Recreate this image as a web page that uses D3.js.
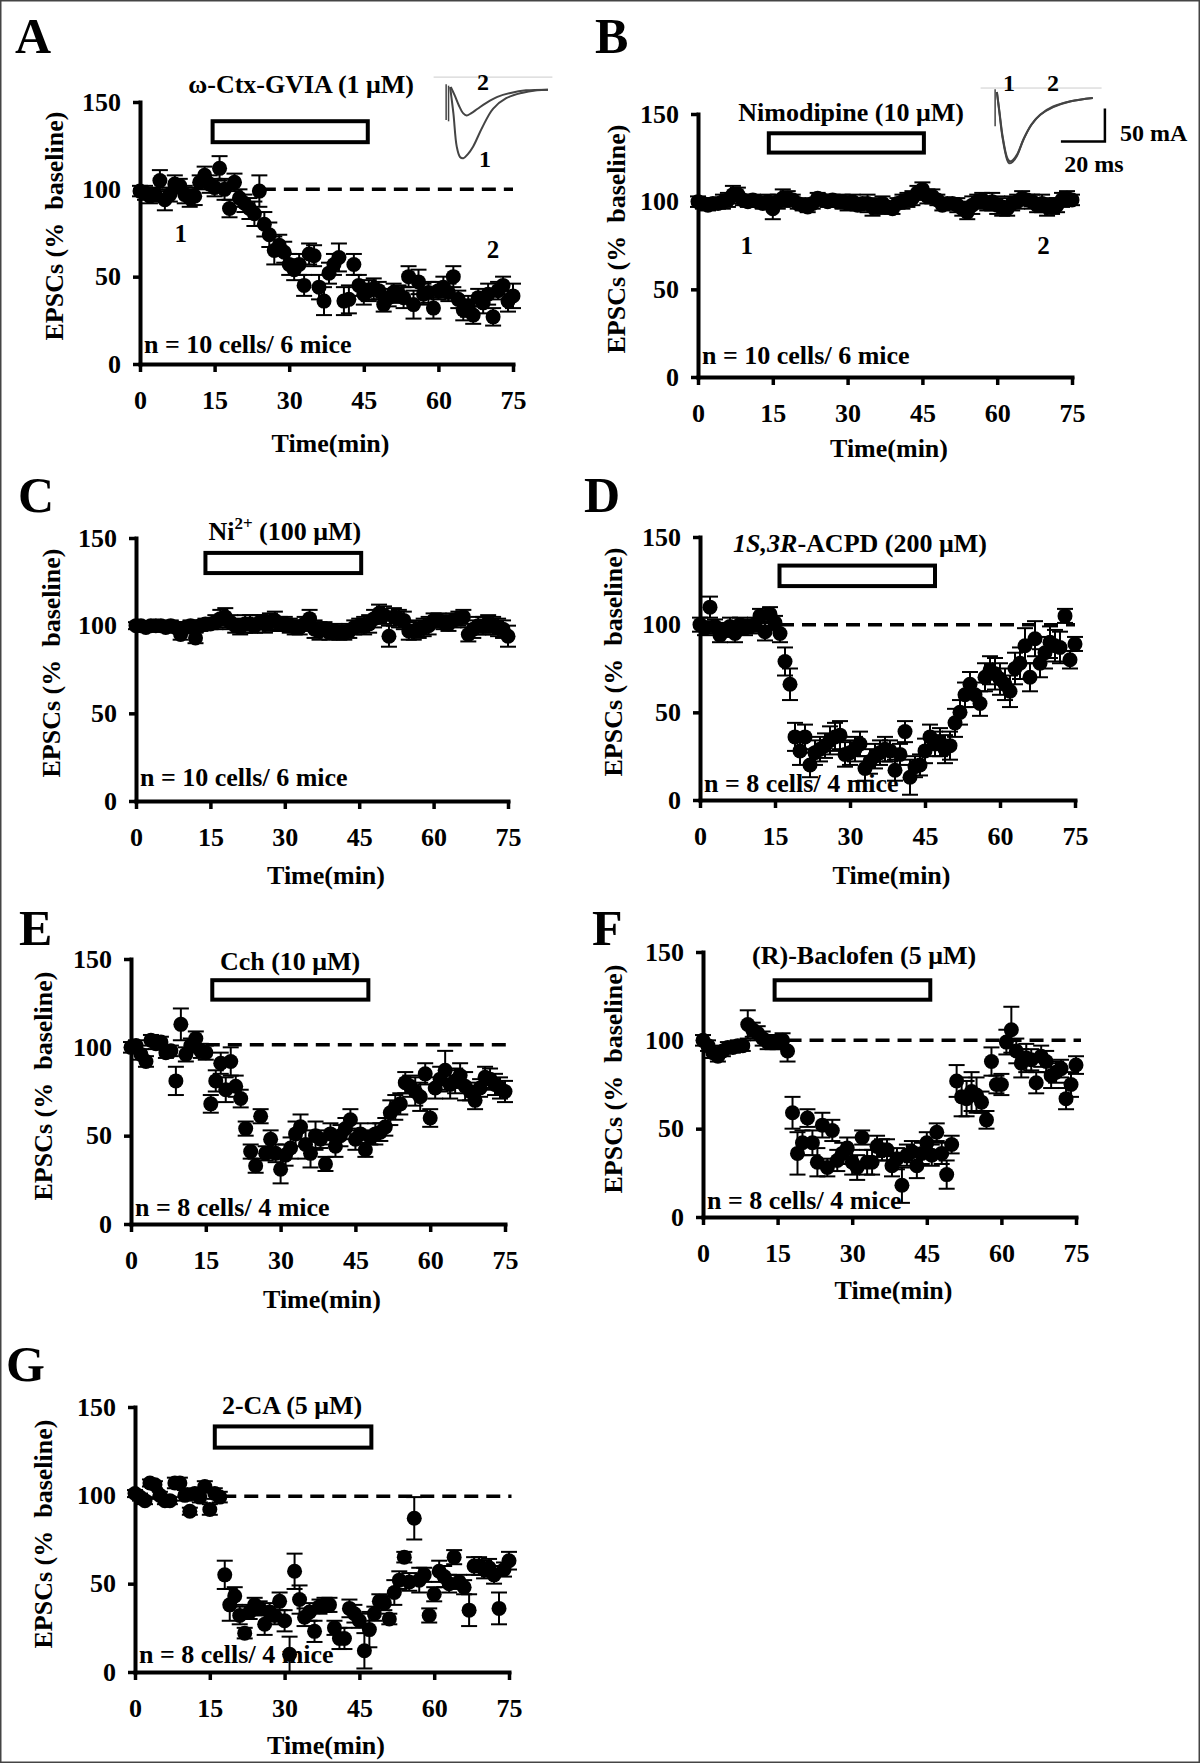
<!DOCTYPE html>
<html>
<head>
<meta charset="utf-8">
<script src="https://cdn.jsdelivr.net/npm/d3@7"></script>
<style>
  body { margin: 0; background: #fff; }
  text { font-family: "Liberation Serif", "Times New Roman", serif; font-weight: bold; }
</style>
</head>
<body>
<script>
// Time axis: one sample per minute
const minutes = d3.range(0, 76);
const xTicks = [0, 15, 30, 45, 60, 75];
const yTicks = [0, 50, 100, 150];

// EPSC amplitude (% baseline) and SEM
const epscA = [99,98,96,97,105,94,97,103,102,97, 95,96,104,108,103,101,112,100,89,104, 95,92,89,86,99,80,74,65,68,64, 57,54,57,45,63,62,44,36,52,57, 61,36,37,57,45,40,42,43,42,34, 38,41,40,38,50,34,47,40,41,32, 42,44,41,50,37,31,33,28,38,35, 40,27,42,45,36,39];
const semA = [3,4,4,4,6,6,4,5,4,5, 5,5,4,5,5,5,7,6,5,5, 5,5,6,7,9,7,7,8,6,6, 6,6,6,6,6,6,7,8,6,6, 8,8,8,6,6,6,6,6,5,4, 5,5,5,6,6,8,7,6,6,6, 5,6,5,6,5,6,6,5,5,6, 6,5,5,5,6,7];

const epscB = [100,99,98,99,99,100,101,104,104,101, 100,101,100,99,100,96,100,102,102,101, 99,98,97,99,102,101,100,101,100,100, 99,100,98,99,99,97,97,99,97,96, 99,100,101,102,105,107,103,103,101,98, 99,99,98,96,94,98,100,101,99,100, 98,97,96,99,100,102,101,100,98,99, 97,97,98,101,102,101];
const semB = [3,3,3,3,3,4,4,5,4,3, 3,3,3,3,4,6,4,5,4,3, 3,3,3,3,3,3,3,3,3,4, 4,4,3,3,5,5,4,4,3,3, 3,4,4,4,4,4,4,4,3,3, 3,3,4,4,4,5,4,4,4,5, 5,5,4,4,4,4,3,4,4,5, 5,4,4,4,4,3];

const epscC = [100,100,99,100,100,100,99,100,99,95, 99,100,93,100,101,101,102,104,105,102, 100,99,101,101,100,102,101,102,103,101, 101,100,99,99,101,104,98,97,98,96, 97,96,96,97,99,100,100,101,104,107, 106,94,105,104,103,97,97,98,99,100, 103,103,102,101,103,104,105,95,98,100, 100,101,100,99,98,94];
const semC = [2,2,2,2,2,2,2,3,3,3, 3,3,3,3,3,3,4,5,5,4, 4,4,5,5,4,4,5,5,5,4, 4,4,4,4,4,5,5,5,4,4, 4,4,4,4,4,4,5,5,5,5, 5,6,5,5,5,5,5,5,5,5, 4,4,4,4,4,4,4,4,5,5, 5,5,5,5,5,6];

const epscD = [100,98,110,99,94,97,99,95,100,98, 99,100,105,96,106,101,95,79,66,36, 28,36,20,27,29,31,34,36,37,26, 27,29,32,18,22,25,27,29,28,17, 26,39,13,19,20,28,36,32,33,29, 31,44,50,60,66,60,55,70,74,72, 69,66,62,75,78,88,70,92,78,84, 90,88,87,105,80,89];
const semD = [4,4,6,4,4,4,5,5,4,4, 4,4,4,5,4,4,5,8,9,8, 8,7,7,7,7,7,8,8,8,7, 7,7,7,7,7,7,7,7,6,6, 6,6,10,6,6,7,7,7,8,8, 8,8,7,7,7,7,7,8,8,9, 9,9,9,9,9,10,8,10,8,9, 9,9,9,4,5,4];

const epscE = [100,101,96,92,104,102,103,97,98,81, 113,96,101,105,98,97,68,81,91,76, 92,78,71,54,41,33,61,40,48,40, 31,39,43,51,55,45,40,50,48,34, 51,44,50,54,59,48,51,42,49,51, 52,55,63,66,68,80,78,75,72,85, 60,77,82,87,79,81,84,78,75,70, 77,83,82,79,77,75];
const semE = [3,3,3,3,3,3,3,3,3,8, 9,4,4,4,4,4,5,6,6,7, 8,6,5,4,4,4,4,4,5,5, 8,6,6,7,7,8,8,8,5,4, 6,6,6,6,6,6,6,4,4,6, 5,5,7,7,6,6,6,8,8,6, 5,6,7,11,8,7,7,8,5,5, 5,6,6,6,6,6];

const epscF = [100,97,93,91,94,96,96,97,97,109, 106,104,101,99,99,99,100,94,59,36, 42,56,42,31,52,28,49,32,36,39, 31,28,45,31,31,40,38,38,29,33, 18,35,37,29,36,42,35,48,36,24, 41,77,68,67,71,69,65,55,88,75, 75,99,106,94,87,90,89,76,91,88, 80,82,84,67,75,86];
const semF = [3,3,3,3,3,3,3,3,3,8, 4,4,4,4,4,4,4,6,9,12, 7,5,7,8,7,5,6,6,6,6, 7,7,4,7,7,6,6,6,6,6, 10,6,6,7,6,6,6,5,6,8, 5,9,11,10,11,10,6,5,8,5, 6,7,13,7,8,8,6,6,6,6, 7,6,5,6,7,5];

const epscG = [101,99,97,107,106,100,97,97,107,107, 100,91,101,99,105,92,101,99,55,38, 43,32,22,34,38,36,27,34,32,40, 29,10,57,41,31,34,23,37,38,38, 25,19,19,36,33,29,12,24,33,40, 39,30,45,52,65,51,87,52,55,32, 44,57,54,50,65,51,48,35,60,60, 58,59,55,36,58,63];
const semG = [2,2,2,2,2,2,2,2,3,3, 3,2,3,3,3,3,3,3,8,9, 5,5,3,4,4,4,6,5,5,5, 6,10,10,8,5,5,6,4,4,4, 4,6,6,5,5,4,10,10,4,4, 4,3,7,5,3,5,12,7,4,4, 4,6,6,5,4,4,4,9,5,5, 5,5,5,9,4,5];

// Drug names (parts so that superscript / italic can be set)
const drugA = [{t: "ω-Ctx-GVIA (1 μM)"}];
const drugB = [{t: "Nimodipine (10 μM)"}];
const drugC = [{t: "Ni"}, {t: "2+", sup: true}, {t: " (100 μM)", after: true}];
const drugD = [{t: "1S,3R", it: true}, {t: "-ACPD (200 μM)"}];
const drugE = [{t: "Cch (10 μM)"}];
const drugF = [{t: "(R)-Baclofen (5 μM)"}];
const drugG = [{t: "2-CA (5 μM)"}];

const cellsA = "n = 10 cells/ 6 mice";
const cellsD = "n = 8 cells/ 4 mice";

// Example traces in the insets: [ms, current]
const traceA1 = [[0.5,0],[2,-40],[3.5,-90],[5,-106],[6.5,-108],[8.5,-102],[11,-90],[15,-62],[20,-33],[26,-17],[33,-9],[40,-5],[45,-4]];
const traceA2 = [[0.8,0],[2.5,-12],[4.5,-28],[6.5,-40],[8,-43],[10,-40],[13,-33],[17,-24],[22,-15],[28,-9],[35,-5],[45,-4]];
const traceB1 = [[0.4,0],[1.5,-30],[3,-70],[5,-102],[6,-108],[7.5,-106],[9.5,-97],[12.5,-72],[16,-50],[20,-35],[26,-23],[34,-14],[44,-9]];
const traceB2 = [[0.4,0],[1.5,-28],[3,-67],[5,-99],[6.2,-105],[7.7,-103],[9.7,-94],[12.7,-70],[16.2,-49],[20.2,-34],[26,-22],[34,-14],[44,-9]];

const svgWidth = 1200;
const svgHeight = 1763;

const svg = d3.select("body")
  .append("svg")
  .attr("width", svgWidth)
  .attr("height", svgHeight);

svg.append("rect")
  .attr("x", 0.75).attr("y", 0.75)
  .attr("width", svgWidth - 1.5).attr("height", svgHeight - 1.5)
  .attr("fill", "#fff").attr("stroke", "#444").attr("stroke-width", 1.5);

// layout for each panel (pixel positions of the axes origin)
const panels = [
  {letter: "A", lx: 15, ly: 53, left: 140, bottom: 364, w: 373, h: 262, values: epscA, sem: semA,
   drug: drugA, drugAt: [32.4, 155], box: [14.6, 45.8, 127, 139], dash: [24.5, 75], dashY: 100,
   cells: cellsA, cellsDy: 11, ylabDx: 77, timeDy: 88},
  {letter: "B", lx: 595, ly: 53, left: 698, bottom: 377, w: 374, h: 263, values: epscB, sem: semB,
   drug: drugB, drugAt: [30.7, 146], box: [14.2, 45.3, 128, 139], dash: null,
   cells: cellsA, cellsDy: 13, ylabDx: 73, timeDy: 80},
  {letter: "C", lx: 18, ly: 512, left: 136, bottom: 801, w: 372, h: 263, values: epscC, sem: semC,
   drug: drugC, drugAt: [30, 148.6], box: [14, 45.4, 130, 141.5], dash: null,
   cells: cellsA, cellsDy: 15, ylabDx: 76, timeDy: 83},
  {letter: "D", lx: 584, ly: 512, left: 700, bottom: 800, w: 375, h: 263, values: epscD, sem: semD,
   drug: drugD, drugAt: [32, 141.5], box: [15.9, 47, 122, 133.7], dash: [16, 75], dashY: 100,
   cells: cellsD, cellsDy: 8, ylabDx: 78, timeDy: 84},
  {letter: "E", lx: 19, ly: 945, left: 131, bottom: 1224, w: 374, h: 265, values: epscE, sem: semE,
   drug: drugE, drugAt: [31.9, 144], box: [16.3, 47.6, 127, 138], dash: [15, 76], dashY: 101.5,
   cells: cellsD, cellsDy: 8, ylabDx: 79, timeDy: 84},
  {letter: "F", lx: 592, ly: 945, left: 703, bottom: 1217, w: 373, h: 265, values: epscF, sem: semF,
   drug: drugF, drugAt: [32.4, 143], box: [14.4, 45.7, 123, 134], dash: [17, 76], dashY: 100,
   cells: cellsD, cellsDy: 8, ylabDx: 81, timeDy: 82},
  {letter: "G", lx: 6, ly: 1381, left: 135, bottom: 1672, w: 374, h: 265, values: epscG, sem: semG,
   drug: drugG, drugAt: [31.5, 146], box: [16, 47.4, 127, 139], dash: [17.5, 75.5], dashY: 99.5,
   cells: cellsD, cellsDy: 9, ylabDx: 83, timeDy: 82}
];

panels.forEach(p => {
  const x = d3.scaleLinear().domain([0, 75]).range([p.left, p.left + p.w]);
  const y = d3.scaleLinear().domain([0, 150]).range([p.bottom, p.bottom - p.h]);
  const g = svg.append("g");

  // panel letter
  g.append("text").attr("x", p.lx).attr("y", p.ly)
    .attr("font-size", 50).text(p.letter);

  // axes
  const styleAxis = a => {
    a.attr("font-family", "Liberation Serif").attr("font-size", 26).attr("font-weight", "bold");
    a.select(".domain").attr("stroke-width", 4).attr("stroke-linecap", "square");
    a.selectAll(".tick line").attr("stroke-width", 3.5);
  };
  g.append("g").attr("transform", `translate(0,${p.bottom})`)
    .call(d3.axisBottom(x).tickValues(xTicks).tickSize(8).tickPadding(19).tickSizeOuter(0))
    .call(styleAxis);
  g.append("g").attr("transform", `translate(${p.left},0)`)
    .call(d3.axisLeft(y).tickValues(yTicks).tickSize(7).tickPadding(12).tickSizeOuter(0))
    .call(styleAxis);

  // axis titles
  g.append("text").attr("x", (p.left + p.left + p.w) / 2 + 4).attr("y", p.bottom + p.timeDy)
    .attr("text-anchor", "middle").attr("font-size", 26).text("Time(min)");
  g.append("text")
    .attr("transform", `translate(${p.left - p.ylabDx},${p.bottom - 138}) rotate(-90)`)
    .attr("text-anchor", "middle").attr("font-size", 26).attr("xml:space", "preserve")
    .text("EPSCs (%  baseline)");

  // drug label and application bar
  const title = g.append("text").attr("x", x(p.drugAt[0])).attr("y", y(p.drugAt[1]))
    .attr("text-anchor", "middle").attr("font-size", 26);
  p.drug.forEach(part => {
    const ts = title.append("tspan").text(part.t);
    if (part.sup) ts.attr("font-size", 17).attr("dy", -11);
    if (part.after) ts.attr("dy", 11);
    if (part.it) ts.attr("font-style", "italic");
  });
  g.append("rect")
    .attr("x", x(p.box[0])).attr("y", y(p.box[3]))
    .attr("width", x(p.box[1]) - x(p.box[0])).attr("height", y(p.box[2]) - y(p.box[3]))
    .attr("fill", "#fff").attr("stroke", "#000").attr("stroke-width", 4);

  // baseline reference
  if (p.dash) {
    g.append("line")
      .attr("x1", x(p.dash[0])).attr("x2", x(p.dash[1]))
      .attr("y1", y(p.dashY)).attr("y2", y(p.dashY))
      .attr("stroke", "#000").attr("stroke-width", 3.5).attr("stroke-dasharray", "14 8");
  }

  // n label sits under the data
  g.append("text").attr("x", p.left + 4).attr("y", p.bottom - p.cellsDy)
    .attr("font-size", 26).text(p.cells);

  const data = minutes.map((t, i) => ({t: t, v: p.values[i], s: p.sem[i]}));

  // error bars
  const bars = g.append("g").attr("stroke", "#000").attr("stroke-width", 2);
  data.forEach(d => {
    bars.append("line").attr("x1", x(d.t)).attr("x2", x(d.t))
      .attr("y1", y(d.v - d.s)).attr("y2", y(d.v + d.s));
    [d.v - d.s, d.v + d.s].forEach(e => {
      bars.append("line").attr("x1", x(d.t) - 8).attr("x2", x(d.t) + 8)
        .attr("y1", y(e)).attr("y2", y(e));
    });
  });

  g.append("g").selectAll("circle")
    .data(data)
    .enter()
    .append("circle")
    .attr("cx", d => x(d.t))
    .attr("cy", d => y(d.v))
    .attr("r", 7.5)
    .attr("fill", "#000");

  p.x = x;
  p.y = y;
});

// time point markers 1 and 2 in A and B
const pA = panels[0], pB = panels[1];
[[pA, 8.2, 70, "1"], [pA, 71, 60.6, "2"], [pB, 9.8, 70, "1"], [pB, 69.3, 70, "2"]].forEach(m => {
  svg.append("text").attr("x", m[0].x(m[1])).attr("y", m[0].y(m[2]))
    .attr("text-anchor", "middle").attr("font-size", 25).text(m[3]);
});

// insets with example traces
function drawInset(ox, oy, traces, ref) {
  const ix = d3.scaleLinear().domain([0, 20]).range([ox, ox + 44]);
  const iy = d3.scaleLinear().domain([0, -50]).range([oy, oy + 33]);
  const line = d3.line().x(d => ix(d[0])).y(d => iy(d[1])).curve(d3.curveCatmullRom);
  const g = svg.append("g");
  g.append("line").attr("x1", ix(ref[0])).attr("x2", ix(ref[1]))
    .attr("y1", iy(ref[2])).attr("y2", iy(ref[2]))
    .attr("stroke", "#ccc").attr("stroke-width", 1);
  traces.forEach(tr => {
    g.append("path").datum(tr).attr("d", line)
      .attr("fill", "none").attr("stroke", "#444").attr("stroke-width", 2);
  });
  return {ix, iy, g};
}

const insA = drawInset(449, 87, [traceA1, traceA2], [-7, 47, 15]);
// stimulus artifacts
[[-1.3, 4, -50], [-0.2, 2, -52]].forEach(a => {
  insA.g.append("line").attr("x1", insA.ix(a[0])).attr("x2", insA.ix(a[0]))
    .attr("y1", insA.iy(a[1])).attr("y2", insA.iy(a[2]))
    .attr("stroke", "#444").attr("stroke-width", 1.5);
});
insA.g.append("text").attr("x", 483).attr("y", 90).attr("text-anchor", "middle").attr("font-size", 24).text("2");
insA.g.append("text").attr("x", 485).attr("y", 167).attr("text-anchor", "middle").attr("font-size", 24).text("1");

const insB = drawInset(996, 92, [traceB1, traceB2], [-7, 48, 6]);
insB.g.append("line").attr("x1", insB.ix(-0.4)).attr("x2", insB.ix(-0.4))
  .attr("y1", insB.iy(4)).attr("y2", insB.iy(-52))
  .attr("stroke", "#444").attr("stroke-width", 1.5);
insB.g.append("text").attr("x", 1009).attr("y", 91).attr("text-anchor", "middle").attr("font-size", 24).text("1");
insB.g.append("text").attr("x", 1053).attr("y", 91).attr("text-anchor", "middle").attr("font-size", 24).text("2");

// scale bar: 20 ms, 50 mA
insB.g.append("path")
  .attr("d", `M${insB.ix(29.5)},${insB.iy(-75)} H${insB.ix(49.5)} V${insB.iy(-25)}`)
  .attr("fill", "none").attr("stroke", "#000").attr("stroke-width", 2.5);
insB.g.append("text").attr("x", 1120).attr("y", 141).attr("font-size", 24).text("50 mA");
insB.g.append("text").attr("x", 1094).attr("y", 172).attr("text-anchor", "middle").attr("font-size", 24).text("20 ms");
</script>
</body>
</html>
